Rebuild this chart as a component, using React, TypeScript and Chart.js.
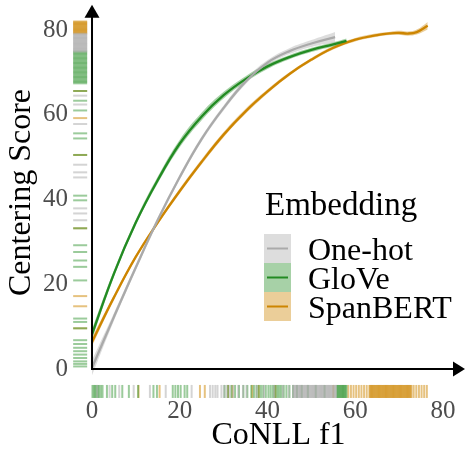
import React, { useEffect, useRef } from 'react';
import { Chart, registerables } from 'chart.js';

Chart.register(...registerables);

// ---------- labels ----------
const seriesNames = ['One-hot', 'GloVe', 'SpanBERT'];
const legendTitle = 'Embedding';
const xTitle = 'CoNLL f1';
const yTitle = 'Centering Score';
const xTickValues = [0, 20, 40, 60, 80];
const yTickValues = [0, 20, 40, 60, 80];

// ---------- smoothed curves (x, fitted y, half band) ----------
const oneHotX = [0, 5, 10, 15, 20, 25, 30, 35, 40, 45, 50, 55.4];
const oneHotY = [0.3, 12.3, 24.0, 35.2, 45.3, 54.3, 61.6, 67.8, 72.3, 75.0, 76.8, 78.3];
const oneHotSe = [1.8, 0.9, 0.7, 0.6, 0.6, 0.6, 0.6, 0.6, 0.6, 0.7, 0.8, 1.2];

const gloveX = [0, 5, 10, 15, 20, 25, 30, 35, 40, 45, 50, 55, 58];
const gloveY = [8.2, 22.5, 34.6, 44.6, 53.2, 59.6, 64.6, 68.4, 71.4, 73.6, 75.3, 76.6, 77.4];
const gloveSe = [1.2, 0.8, 0.7, 0.8, 0.9, 0.9, 0.8, 0.7, 0.6, 0.5, 0.5, 0.5, 0.6];

const spanbertX = [0, 5, 10, 15, 20, 25, 30, 35, 40, 45, 50, 55, 60, 65, 68, 70, 72, 74, 76.5];
const spanbertY = [6.4, 16.9, 26.5, 34.6, 42.0, 48.9, 55.3, 60.8, 65.5, 69.6, 73.0, 75.8, 77.7, 78.8, 79.2, 79.3, 79.15, 79.5, 81.0];
const spanbertSe = [1.0, 0.6, 0.5, 0.5, 0.6, 0.6, 0.6, 0.6, 0.5, 0.4, 0.4, 0.4, 0.4, 0.4, 0.4, 0.5, 0.5, 0.6, 0.9];

// ---------- rug marks (x values along bottom, y values along left) ----------
const oneHotRugX = [1.2, 4.0, 6.2, 9.5, 13.2, 16.8, 22.7, 26.9, 27.5, 28.1, 28.6, 29.5, 30.1, 30.7, 31.4, 32.2,
  33.3, 34.4, 35.2, 37.5, 39.2, 41.5, 43.5, 44.8,
  45.8, 46.0, 46.2, 46.4, 46.6, 46.8, 47.0, 47.2, 47.4, 47.6, 47.8, 48.0, 48.2, 48.4, 48.6, 48.8, 49.0, 49.2,
  49.4, 49.6, 49.8, 50.0, 50.2, 50.4, 50.6, 50.8, 51.0, 51.2, 51.4, 51.6, 51.8, 52.0, 52.2, 52.4, 52.6, 52.8,
  53.0, 53.2, 53.4, 53.6, 53.8, 54.0, 54.2, 54.4, 54.6, 54.8, 55.0, 55.2, 55.4, 55.6];
const gloveRugX = [0.1, 0.4, 0.7, 1.0, 1.3, 1.6, 2.0, 2.4, 3.4, 4.6, 5.3, 6.9, 8.4, 10.5, 14.0, 14.8, 18.4, 19.0,
  19.6, 20.2, 21.1, 21.7, 30.2, 31.0, 31.8, 32.6, 33.5, 34.5, 35.4, 36.3, 36.9, 37.5, 38.0, 38.5, 39.0, 39.6,
  40.2, 40.7, 41.2, 41.6, 42.0, 42.4, 42.8, 43.2, 43.7, 44.3, 45.0, 45.8, 46.7, 47.8, 49.2, 51.0, 53.0,
  55.8, 56.0, 56.2, 56.4, 56.6, 56.8, 57.0, 57.2, 57.4, 57.6, 57.8, 58.0];
const spanbertRugX = [10.6, 15.4, 24.6, 25.7, 31.0, 32.0, 36.5, 38.0, 41.8, 55.0, 58.4, 59.0, 59.6, 60.2, 60.8,
  61.4, 62.0, 62.6, 63.2, 63.4, 63.6, 63.8, 64.0, 64.2, 64.4, 64.6, 64.8, 65.0, 65.2, 65.4, 65.6, 65.8, 66.0,
  66.2, 66.4, 66.6, 66.8, 67.0, 67.2, 67.4, 67.6, 67.8, 68.0, 68.2, 68.4, 68.6, 68.8, 69.0, 69.2, 69.4, 69.6,
  69.8, 70.0, 70.2, 70.4, 70.6, 70.8, 71.0, 71.2, 71.4, 71.6, 71.8, 72.0, 72.2, 72.4, 72.6, 72.8, 73.3, 73.9,
  74.5, 75.1, 75.7, 76.3];

const oneHotRugY = [35.1, 36.7, 37.9, 45.2, 46.4, 48.2, 57.8, 62.4, 64.5,
  74.9, 75.1, 75.3, 75.5, 75.7, 75.9, 76.1, 76.3, 76.5, 76.7, 76.9, 77.1, 77.3, 77.5, 77.7, 77.9, 78.1, 78.3,
  78.5, 78.7, 78.9, 79.1];
const gloveRugY = [0.6, 1.2, 1.8, 2.6, 3.4, 4.2, 5.0, 5.9, 6.8, 9.6, 11.1, 11.9, 20.9, 24.1, 25.6, 27.6, 29.2,
  33.2, 39.8, 40.9, 50.5, 54.4, 55.6, 61.0, 63.3, 65.6,
  67.4, 67.7, 68.0, 68.3, 68.6, 68.9, 69.2, 69.5, 69.8, 70.1, 70.4, 70.7, 71.0, 71.3, 71.6, 71.9, 72.2, 72.5,
  72.8, 73.1, 73.4, 73.7, 74.0, 74.3, 74.6, 74.9];
const spanbertRugY = [9.6, 14.8, 17.2, 33.2, 50.5, 59.2, 65.6,
  79.2, 79.4, 79.6, 79.8, 80.0, 80.2, 80.4, 80.6, 80.8, 81.0, 81.2, 81.4, 81.6, 81.8, 82.0];

// ---------- styles ----------
const lineColors = ['#aaaaaa', '#228b22', '#cd8500'];
const bandColors = ['rgba(169,169,169,0.4)', 'rgba(34,139,34,0.4)', 'rgba(205,133,0,0.4)'];
const rugColors = ['rgba(169,169,169,0.5)', 'rgba(34,139,34,0.45)', 'rgba(205,133,0,0.5)'];
const FONT = "'Liberation Serif', 'Times New Roman', serif";
const X_MIN = -4.56;
const X_MAX = 85;
const Y_MIN = -7.08;
const Y_MAX = 85;
const RUG_LEFT_X = -2.7; // data-x where the left rug sits
const RUG_BOTTOM_Y = -5.3; // data-y where the bottom rug sits

const curves = [
  { x: oneHotX, y: oneHotY, se: oneHotSe },
  { x: gloveX, y: gloveY, se: gloveSe },
  { x: spanbertX, y: spanbertY, se: spanbertSe },
];
const rugsX = [oneHotRugX, gloveRugX, spanbertRugX];
const rugsY = [oneHotRugY, gloveRugY, spanbertRugY];

const arrowAxes = {
  id: 'arrowAxes',
  afterDatasetsDraw(chart: any) {
    const { ctx, scales } = chart;
    const x0 = scales.x.getPixelForValue(0);
    const y0 = scales.y.getPixelForValue(0);
    const tipY = chart.chartArea.top - 4;
    const tipX = chart.width - 1;
    ctx.save();
    ctx.strokeStyle = '#000';
    ctx.fillStyle = '#000';
    ctx.lineWidth = 2;
    ctx.beginPath();
    ctx.moveTo(x0, y0 + 1);
    ctx.lineTo(x0, tipY + 12);
    ctx.stroke();
    ctx.beginPath();
    ctx.moveTo(x0 - 1, y0);
    ctx.lineTo(tipX - 11, y0);
    ctx.stroke();
    ctx.beginPath();
    ctx.moveTo(x0, tipY);
    ctx.lineTo(x0 - 7.5, tipY + 13);
    ctx.lineTo(x0 + 7.5, tipY + 13);
    ctx.closePath();
    ctx.fill();
    ctx.beginPath();
    ctx.moveTo(tipX, y0);
    ctx.lineTo(tipX - 12, y0 - 7.5);
    ctx.lineTo(tipX - 12, y0 + 7.5);
    ctx.closePath();
    ctx.fill();
    ctx.restore();
  },
};

const axisTitles = {
  id: 'axisTitles',
  afterDraw(chart: any) {
    const { ctx, scales } = chart;
    const x0 = scales.x.getPixelForValue(0);
    const xr = chart.chartArea.right;
    ctx.save();
    ctx.fillStyle = '#000';
    ctx.font = `32px ${FONT}`;
    ctx.textAlign = 'center';
    ctx.textBaseline = 'middle';
    ctx.fillText(xTitle, (x0 + xr) / 2, 436);
    ctx.translate(22, 192.5);
    ctx.rotate(-Math.PI / 2);
    ctx.fillText(yTitle, 0, 0);
    ctx.restore();
  },
};

const insideLegend = {
  id: 'insideLegend',
  afterDraw(chart: any) {
    const { ctx } = chart;
    const left = 264;
    const top = 234;
    const keyW = 27;
    const keyH = 29;
    ctx.save();
    ctx.fillStyle = '#000';
    ctx.textBaseline = 'alphabetic';
    ctx.textAlign = 'left';
    ctx.font = `33px ${FONT}`;
    ctx.fillText(legendTitle, left + 1, 215);
    seriesNames.forEach((name, i) => {
      const ky = top + i * keyH;
      ctx.fillStyle = '#ffffff';
      ctx.fillRect(left, ky, keyW, keyH);
      ctx.fillStyle = bandColors[i];
      ctx.fillRect(left, ky, keyW, keyH);
      ctx.strokeStyle = lineColors[i];
      ctx.lineWidth = 2;
      ctx.beginPath();
      ctx.moveTo(left + 3, ky + keyH / 2);
      ctx.lineTo(left + keyW - 3, ky + keyH / 2);
      ctx.stroke();
      ctx.fillStyle = '#000';
      ctx.font = `32px ${FONT}`;
      ctx.fillText(name, 308, ky + 26);
    });
    ctx.restore();
  },
};

export default function App() {
  const ref = useRef<HTMLCanvasElement | null>(null);

  useEffect(() => {
    if (!ref.current) return;
    const datasets: any[] = [];
    curves.forEach((c, i) => {
      datasets.push({
        type: 'line',
        label: seriesNames[i],
        data: c.x.map((x, j) => ({ x, y: c.y[j] })),
        borderColor: lineColors[i],
        borderWidth: 2.3,
        pointRadius: 0,
        tension: 0.4,
        fill: false,
        clip: false,
        order: 0,
      });
    });
    curves.forEach((c, i) => {
      datasets.push({
        type: 'line',
        data: c.x.map((x, j) => ({ x, y: c.y[j] + c.se[j] })),
        borderWidth: 0,
        pointRadius: 0,
        tension: 0.4,
        fill: false,
        clip: false,
        order: 1,
      });
      datasets.push({
        type: 'line',
        data: c.x.map((x, j) => ({ x, y: c.y[j] - c.se[j] })),
        borderWidth: 0,
        pointRadius: 0,
        tension: 0.4,
        fill: '-1',
        backgroundColor: bandColors[i],
        clip: false,
        order: 1,
      });
    });
    rugsX.forEach((vals, i) => {
      datasets.push({
        type: 'line',
        showLine: false,
        data: vals.map((v) => ({ x: v, y: RUG_BOTTOM_Y })),
        pointStyle: 'line',
        pointRotation: 90,
        pointRadius: 6.5,
        pointBorderWidth: 2,
        pointBorderColor: rugColors[i],
        pointHitRadius: 0,
        clip: false,
        order: 2,
      });
    });
    rugsY.forEach((vals, i) => {
      datasets.push({
        type: 'line',
        showLine: false,
        data: vals.map((v) => ({ x: RUG_LEFT_X, y: v })),
        pointStyle: 'line',
        pointRotation: 0,
        pointRadius: 7,
        pointBorderWidth: 2,
        pointBorderColor: rugColors[i],
        pointHitRadius: 0,
        clip: false,
        order: 2,
      });
    });

    const chart = new Chart(ref.current, {
      type: 'line',
      data: { datasets },
      plugins: [arrowAxes, axisTitles, insideLegend],
      options: {
        animation: false,
        responsive: true,
        maintainAspectRatio: false,
        events: [],
        layout: { autoPadding: false, padding: { left: 0, right: 1, top: 8.75, bottom: 0 } },
        plugins: { legend: { display: false }, tooltip: { enabled: false } },
        scales: {
          x: {
            type: 'linear',
            min: X_MIN,
            max: X_MAX,
            grid: { display: false, drawTicks: false },
            border: { display: false },
            afterBuildTicks: (s: any) => {
              s.ticks = xTickValues.map((v) => ({ value: v }));
            },
            ticks: {
              padding: 0,
              maxRotation: 0,
              autoSkip: false,
              color: '#4d4d4d',
              font: { family: FONT, size: 25, lineHeight: 1 },
            },
            title: { display: false },
            afterFit: (s: any) => {
              s.height = 56;
              s.paddingLeft = 0;
              s.paddingRight = 0;
              s.paddingTop = 0;
              s.paddingBottom = 0;
            },
          },
          y: {
            type: 'linear',
            min: Y_MIN,
            max: Y_MAX,
            grid: { display: false, drawTicks: false },
            border: { display: false },
            afterBuildTicks: (s: any) => {
              s.ticks = yTickValues.map((v) => ({ value: v }));
            },
            ticks: {
              padding: 4,
              autoSkip: false,
              color: '#4d4d4d',
              font: { family: FONT, size: 25 },
            },
            title: { display: false },
            afterFit: (s: any) => {
              s.width = 72;
              s.paddingLeft = 0;
              s.paddingRight = 0;
              s.paddingTop = 0;
              s.paddingBottom = 0;
            },
          },
        },
      } as any,
    });
    return () => chart.destroy();
  }, []);

  return (
    <div style={{ position: 'fixed', left: 0, top: 0, width: 466, height: 455, background: '#fff' }}>
      <canvas ref={ref} />
    </div>
  );
}
